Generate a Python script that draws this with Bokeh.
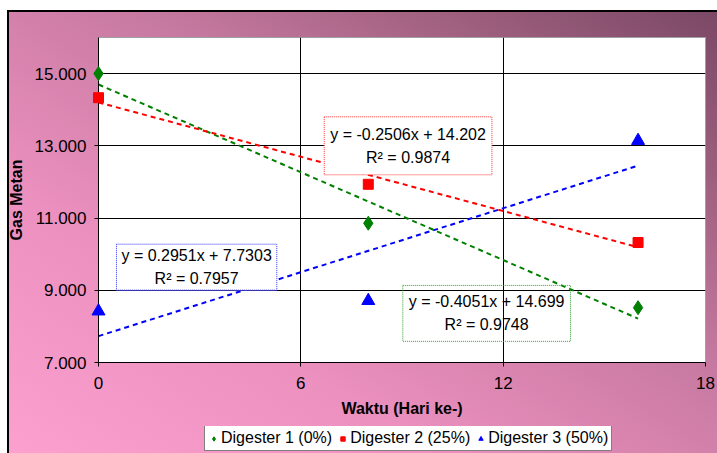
import numpy as np
from bokeh.plotting import figure
from bokeh.layouts import column
from bokeh.models import (FixedTicker, NumeralTickFormatter, Label, Legend,
                          LegendItem, Range1d)
from bokeh.embed import file_html
from bokeh.resources import INLINE

# ---- data ----
days = [0, 8, 16]
digester1 = [15.000, 10.856, 8.518]
digester2 = [14.333, 11.935, 10.323]
digester3 = [8.421, 8.710, 13.143]
series_names = ["Digester 1 (0%)", "Digester 2 (25%)", "Digester 3 (50%)"]
equation_texts = [
    "y = -0.4051x + 14.699\nR² = 0.9748",
    "y = -0.2506x + 14.202\nR² = 0.9874",
    "y = 0.2951x + 7.7303\nR² = 0.7957",
]
x_ticks = [0, 6, 12, 18]
y_ticks = [7, 9, 11, 13, 15]
x_title = "Waktu (Hari ke-)"
y_title = "Gas Metan"

FONT = "Liberation Sans"

p = figure(frame_width=607, frame_height=325, output_backend="svg",
           toolbar_location=None,
           x_range=Range1d(0, 18), y_range=Range1d(7, 16),
           min_border_left=98, min_border_top=37, min_border_right=12,
           min_border_bottom=64)
p.border_fill_color = None
p.background_fill_color = "white"
p.outline_line_color = "#a0a0a0"
p.outline_line_width = 1

# axes
for ax in (p.xaxis[0], p.yaxis[0]):
    ax.axis_line_color = "black"
    ax.major_tick_line_color = "black"
    ax.major_tick_out = 4
    ax.major_tick_in = 0
    ax.minor_tick_line_color = None
    ax.major_label_text_font = FONT
    ax.major_label_text_font_size = "17px"
    ax.major_label_text_color = "black"
    ax.axis_label_text_font = FONT
    ax.axis_label_text_font_size = "16px"
    ax.axis_label_text_font_style = "bold"
    ax.axis_label_text_color = "black"

p.xaxis.ticker = FixedTicker(ticks=x_ticks)
p.yaxis.ticker = FixedTicker(ticks=y_ticks)
p.yaxis.formatter = NumeralTickFormatter(format="0.000")
p.xaxis.axis_label = x_title
p.yaxis.axis_label = y_title
p.xaxis.major_label_standoff = 10
p.xaxis.axis_label_standoff = 8
p.yaxis.major_label_standoff = 8
p.yaxis.axis_label_standoff = 7

p.xgrid.ticker = FixedTicker(ticks=[t for t in x_ticks if 0 < t < 18])
p.ygrid.ticker = FixedTicker(ticks=[t for t in y_ticks if t > 7])
p.grid.grid_line_color = "black"
p.grid.grid_line_width = 1

colors = ["#008000", "#ff0000", "#0000ff"]
markers = ["diamond", "square", "triangle"]
sizes = [14, 10, 13]
series = [digester1, digester2, digester3]

# trend lines (least squares fit of each series)
for vals, c in zip(series, colors):
    m, b = np.polyfit(days, vals, 1)
    xs = [days[0], days[-1]]
    p.line(xs, [m * x + b for x in xs], line_color=c, line_width=2,
           line_dash="5 4")

for vals, c, mk, s in zip(series, colors, markers, sizes):
    p.scatter(days, vals, marker=mk, size=s, fill_color=c, line_color=c,
              level="overlay")

# equation labels
label_specs = [
    dict(x=11.51, y=8.36, border="#33a033", fill=None, pad=(6, 8)),
    dict(x=9.18, y=13.0, border="#ff3030", fill="white", pad=(6, 9)),
    dict(x=2.91, y=9.64, border="#3030ff", fill="white", pad=(5, 3)),
]
for txt, spec in zip(equation_texts, label_specs):
    lab = Label(x=spec["x"], y=spec["y"], text=txt, text_align="center",
                text_baseline="middle", text_font=FONT,
                text_font_size="16px", text_color="black",
                text_line_height=1.35,
                border_line_color=spec["border"], border_line_dash="1 1",
                border_line_width=1,
                background_fill_color=spec["fill"],
                padding=spec["pad"])
    p.add_layout(lab)

# ---- legend strip (separate small canvas below the chart) ----
# Same series drawn into a range where they are off-view, so only their
# legend symbols show.
p2 = figure(width=717, height=27, output_backend="svg", toolbar_location=None,
            x_axis_type=None, y_axis_type=None,
            x_range=Range1d(0, 18), y_range=Range1d(100, 101),
            min_border=0)
p2.border_fill_color = None
p2.background_fill_color = None
p2.outline_line_color = None
p2.grid.visible = False
leg_renderers = []
for vals, c, mk, s in zip(series, colors, markers, sizes):
    leg_renderers.append(p2.scatter(days, vals, marker=mk, size=s,
                                    fill_color=c, line_color=c))

legend = Legend(items=[LegendItem(label=n, renderers=[r])
                       for n, r in zip(series_names, leg_renderers)],
                orientation="horizontal", location=(106, 2))
legend.label_text_font = FONT
legend.label_text_font_size = "16px"
legend.label_text_color = "black"
legend.border_line_color = "black"
legend.border_line_width = 1
legend.background_fill_color = "white"
legend.background_fill_alpha = 1
legend.glyph_width = 11
legend.glyph_height = 11
legend.label_height = 14
legend.label_standoff = 2
legend.spacing = 5
legend.padding = 3
legend.margin = 0
p2.add_layout(legend, "center")

layout = column(p, p2, spacing=0)
grad = "linear-gradient(to top right, #fca0cf 0%, #ec90bf 30%, #c679a0 60%, #a0607f 80%, #7a4866 100%)"
layout.styles = {
    "background": (
        "linear-gradient(#000,#000) 7px 10px / 2px 100% no-repeat, "
        "linear-gradient(#000,#000) 7px 10px / 100% 2px no-repeat, "
        + grad + " 8px 11px / calc(100% - 8px) calc(100% - 11px) no-repeat, #ffffff"
    ),
}

open("out.html", "w").write(file_html(layout, INLINE))
